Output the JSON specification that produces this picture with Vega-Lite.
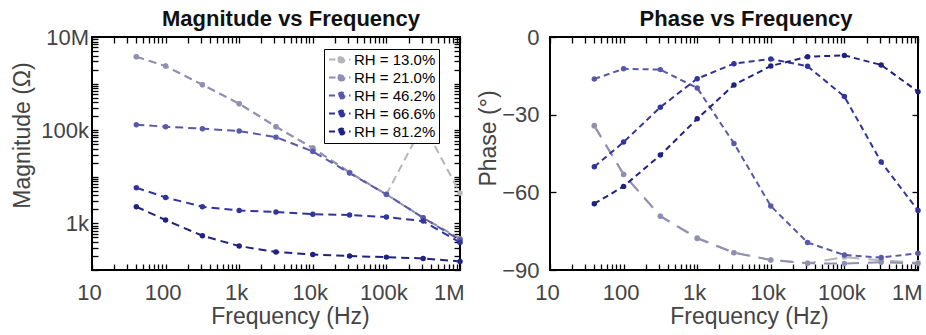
{
  "$schema": "https://vega.github.io/schema/vega-lite/v6.json",
  "padding": {"left": 9, "top": 7, "right": 0, "bottom": 0},
  "background": "white",
  "config": {
    "font": "Liberation Sans",
    "view": {"stroke": "#000", "strokeWidth": 2},
    "axis": {"domain": false, "grid": false, "labelColor": "#444", "titleColor": "#444", "tickColor": "#000", "tickWidth": 1.3, "labelFontSize": 22, "titleFontSize": 23, "titleFontWeight": "normal", "labelFont": "Liberation Sans", "titleFont": "Liberation Sans", "labelOverlap": false, "labelFlush": false}
  },
  "bounds": "flush",
  "spacing": 90,
  "datasets": {
    "mag": [
      {"f": 40, "rh": "RH = 13.0%", "v": 3780000}, {"f": 100, "rh": "RH = 13.0%", "v": 2380000}, {"f": 316, "rh": "RH = 13.0%", "v": 948000}, {"f": 1000, "rh": "RH = 13.0%", "v": 371000}, {"f": 3160, "rh": "RH = 13.0%", "v": 119000}, {"f": 10000, "rh": "RH = 13.0%", "v": 41400}, {"f": 31600, "rh": "RH = 13.0%", "v": 12400}, {"f": 100000, "rh": "RH = 13.0%", "v": 4190}, {"f": 316000, "rh": "RH = 13.0%", "v": 133000}, {"f": 1000000, "rh": "RH = 13.0%", "v": 4500},
      {"f": 40, "rh": "RH = 21.0%", "v": 3780000}, {"f": 100, "rh": "RH = 21.0%", "v": 2380000}, {"f": 316, "rh": "RH = 21.0%", "v": 948000}, {"f": 1000, "rh": "RH = 21.0%", "v": 371000}, {"f": 3160, "rh": "RH = 21.0%", "v": 119000}, {"f": 10000, "rh": "RH = 21.0%", "v": 41400}, {"f": 31600, "rh": "RH = 21.0%", "v": 12400}, {"f": 100000, "rh": "RH = 21.0%", "v": 4190}, {"f": 316000, "rh": "RH = 21.0%", "v": 1320}, {"f": 1000000, "rh": "RH = 21.0%", "v": 469},
      {"f": 40, "rh": "RH = 46.2%", "v": 131000}, {"f": 100, "rh": "RH = 46.2%", "v": 119000}, {"f": 316, "rh": "RH = 46.2%", "v": 108000}, {"f": 1000, "rh": "RH = 46.2%", "v": 96000}, {"f": 3160, "rh": "RH = 46.2%", "v": 71000}, {"f": 10000, "rh": "RH = 46.2%", "v": 35000}, {"f": 31600, "rh": "RH = 46.2%", "v": 12000}, {"f": 100000, "rh": "RH = 46.2%", "v": 4200}, {"f": 316000, "rh": "RH = 46.2%", "v": 1320}, {"f": 1000000, "rh": "RH = 46.2%", "v": 438},
      {"f": 40, "rh": "RH = 66.6%", "v": 5830}, {"f": 100, "rh": "RH = 66.6%", "v": 3610}, {"f": 316, "rh": "RH = 66.6%", "v": 2280}, {"f": 1000, "rh": "RH = 66.6%", "v": 1900}, {"f": 3160, "rh": "RH = 66.6%", "v": 1750}, {"f": 10000, "rh": "RH = 66.6%", "v": 1580}, {"f": 31600, "rh": "RH = 66.6%", "v": 1510}, {"f": 100000, "rh": "RH = 66.6%", "v": 1370}, {"f": 316000, "rh": "RH = 66.6%", "v": 1120}, {"f": 1000000, "rh": "RH = 66.6%", "v": 391},
      {"f": 40, "rh": "RH = 81.2%", "v": 2280}, {"f": 100, "rh": "RH = 81.2%", "v": 1180}, {"f": 316, "rh": "RH = 81.2%", "v": 543}, {"f": 1000, "rh": "RH = 81.2%", "v": 326}, {"f": 3160, "rh": "RH = 81.2%", "v": 243}, {"f": 10000, "rh": "RH = 81.2%", "v": 216}, {"f": 31600, "rh": "RH = 81.2%", "v": 199}, {"f": 100000, "rh": "RH = 81.2%", "v": 189}, {"f": 316000, "rh": "RH = 81.2%", "v": 177}, {"f": 1000000, "rh": "RH = 81.2%", "v": 153}
    ],
    "phase": [
      {"f": 40, "rh": "RH = 13.0%", "v": -34.5}, {"f": 100, "rh": "RH = 13.0%", "v": -53}, {"f": 316, "rh": "RH = 13.0%", "v": -69.2}, {"f": 1000, "rh": "RH = 13.0%", "v": -77.5}, {"f": 3160, "rh": "RH = 13.0%", "v": -83.3}, {"f": 10000, "rh": "RH = 13.0%", "v": -86.1}, {"f": 31600, "rh": "RH = 13.0%", "v": -87.4}, {"f": 100000, "rh": "RH = 13.0%", "v": -85}, {"f": 316000, "rh": "RH = 13.0%", "v": -86.3}, {"f": 1000000, "rh": "RH = 13.0%", "v": -87.2},
      {"f": 40, "rh": "RH = 21.0%", "v": -34.2}, {"f": 100, "rh": "RH = 21.0%", "v": -53.1}, {"f": 316, "rh": "RH = 21.0%", "v": -69.2}, {"f": 1000, "rh": "RH = 21.0%", "v": -77.8}, {"f": 3160, "rh": "RH = 21.0%", "v": -83.3}, {"f": 10000, "rh": "RH = 21.0%", "v": -86.1}, {"f": 31600, "rh": "RH = 21.0%", "v": -87.4}, {"f": 100000, "rh": "RH = 21.0%", "v": -87.5}, {"f": 316000, "rh": "RH = 21.0%", "v": -87}, {"f": 1000000, "rh": "RH = 21.0%", "v": -87.5},
      {"f": 40, "rh": "RH = 46.2%", "v": -16.2}, {"f": 100, "rh": "RH = 46.2%", "v": -12.3}, {"f": 316, "rh": "RH = 46.2%", "v": -12.6}, {"f": 1000, "rh": "RH = 46.2%", "v": -19.7}, {"f": 3160, "rh": "RH = 46.2%", "v": -41.1}, {"f": 10000, "rh": "RH = 46.2%", "v": -65.3}, {"f": 31600, "rh": "RH = 46.2%", "v": -79.4}, {"f": 100000, "rh": "RH = 46.2%", "v": -84.2}, {"f": 316000, "rh": "RH = 46.2%", "v": -85.2}, {"f": 1000000, "rh": "RH = 46.2%", "v": -83.5},
      {"f": 40, "rh": "RH = 66.6%", "v": -50.1}, {"f": 100, "rh": "RH = 66.6%", "v": -40.6}, {"f": 316, "rh": "RH = 66.6%", "v": -27.1}, {"f": 1000, "rh": "RH = 66.6%", "v": -16.1}, {"f": 3160, "rh": "RH = 66.6%", "v": -10.3}, {"f": 10000, "rh": "RH = 66.6%", "v": -8.5}, {"f": 31600, "rh": "RH = 66.6%", "v": -11.3}, {"f": 100000, "rh": "RH = 66.6%", "v": -23}, {"f": 316000, "rh": "RH = 66.6%", "v": -48.3}, {"f": 1000000, "rh": "RH = 66.6%", "v": -67},
      {"f": 40, "rh": "RH = 81.2%", "v": -64.4}, {"f": 100, "rh": "RH = 81.2%", "v": -57.7}, {"f": 316, "rh": "RH = 81.2%", "v": -45.6}, {"f": 1000, "rh": "RH = 81.2%", "v": -31.6}, {"f": 3160, "rh": "RH = 81.2%", "v": -18.5}, {"f": 10000, "rh": "RH = 81.2%", "v": -11.2}, {"f": 31600, "rh": "RH = 81.2%", "v": -7.6}, {"f": 100000, "rh": "RH = 81.2%", "v": -7.1}, {"f": 316000, "rh": "RH = 81.2%", "v": -10.8}, {"f": 1000000, "rh": "RH = 81.2%", "v": -21.1}
    ]
  },
  "hconcat": [
    {
      "width": 368, "height": 233,
      "title": {"text": "Magnitude vs Frequency", "fontSize": 22, "fontWeight": "bold", "color": "#111", "anchor": "middle", "frame": "group", "dx": 15, "offset": -22, "baseline": "alphabetic"},
      "data": {"name": "mag"},
      "layer": [
        {
          "mark": {"type": "line", "strokeDash": [8, 5], "strokeWidth": 2, "point": {"filled": true, "size": 30}},
          "encoding": {
            "x": {"field": "f", "type": "quantitative", "scale": {"type": "log", "domain": [10, 1000000], "nice": false},
              "axis": {"orient": "bottom", "title": "Frequency (Hz)", "titleX": 198, "titleY": 53, "titleBaseline": "alphabetic", "titleAlign": "center",
                "values": [10,20,30,40,50,60,70,80,90,100,200,300,400,500,600,700,800,900,1000,2000,3000,4000,5000,6000,7000,8000,9000,10000,20000,30000,40000,50000,60000,70000,80000,90000,100000,200000,300000,400000,500000,600000,700000,800000,900000,1000000],
                "labelExpr": "datum.value==10?'10':datum.value==100?'100':datum.value==1000?'1k':datum.value==10000?'10k':datum.value==100000?'100k':datum.value==1000000?'1M':''",
                "tickSize": -6, "labelPadding": 18,
                "labelAlign": {"condition": {"test": "datum.value == 1000000", "value": "right"}, "value": "center"},
                "labelOffset": {"condition": {"test": "datum.value == 1000000", "value": 4}, "value": -3},
                "encode": {"ticks": {"update": {"y2": {"signal": "indexof([10,100,1000,10000,100000,1000000], datum.value) >= 0 ? -6 : -3"}}}}}},
            "y": {"field": "v", "type": "quantitative", "scale": {"type": "log", "domain": [100, 10000000], "nice": false},
              "axis": {"orient": "left", "title": "Magnitude (Ω)", "titleX": -70, "titleY": 98, "titleBaseline": "middle", "titleAlign": "center", "titleAngle": -90,
                "values": [100,200,300,400,500,600,700,800,900,1000,2000,3000,4000,5000,6000,7000,8000,9000,10000,20000,30000,40000,50000,60000,70000,80000,90000,100000,200000,300000,400000,500000,600000,700000,800000,900000,1000000,2000000,3000000,4000000,5000000,6000000,7000000,8000000,9000000,10000000],
                "labelExpr": "datum.value==1000?'1k':datum.value==100000?'100k':datum.value==10000000?'10M':''",
                "tickSize": -6, "labelPadding": 9.5,
                "encode": {"ticks": {"update": {"x2": {"signal": "indexof([100,1000,10000,100000,1000000,10000000], datum.value) >= 0 ? 6 : 3"}}}}}},
            "color": {"field": "rh", "type": "nominal",
              "scale": {"domain": ["RH = 13.0%", "RH = 21.0%", "RH = 46.2%", "RH = 66.6%", "RH = 81.2%"], "range": ["#b5b5b9", "#8f8fb5", "#5959aa", "#31349b", "#20227f"]},
              "legend": {"orient": "none", "legendX": 232, "legendY": 12, "title": null, "labelFontSize": 15, "labelColor": "#000", "labelFont": "Liberation Sans", "strokeColor": "#000", "fillColor": "#fff", "padding": 3, "symbolType": "M-2.5,0H-1.2M0.6,0A0.6,0.6,0,1,1,-0.6,0A0.6,0.6,0,1,1,0.6,0M1.5,0H1.8", "symbolSize": 100, "symbolOffset": 7, "labelOffset": 5, "rowPadding": 2, "symbolStrokeWidth": 2,
                "encode": {"symbols": {"update": {"fill": {"scale": "color", "field": "value"}, "stroke": {"scale": "color", "field": "value"}, "strokeWidth": {"value": 2}, "opacity": {"value": 1}}}}}}
          }
        },
        {
          "mark": {"type": "point", "opacity": 0},
          "encoding": {
            "x": {"field": "f", "type": "quantitative", "scale": {"type": "log", "domain": [10, 1000000], "nice": false},
              "axis": {"orient": "top", "title": null, "labels": false, "tickSize": -6,
                "values": [10,20,30,40,50,60,70,80,90,100,200,300,400,500,600,700,800,900,1000,2000,3000,4000,5000,6000,7000,8000,9000,10000,20000,30000,40000,50000,60000,70000,80000,90000,100000,200000,300000,400000,500000,600000,700000,800000,900000,1000000],
                "encode": {"ticks": {"update": {"y2": {"signal": "indexof([10,100,1000,10000,100000,1000000], datum.value) >= 0 ? 6 : 3"}}}}}},
            "y": {"field": "v", "type": "quantitative", "scale": {"type": "log", "domain": [100, 10000000], "nice": false},
              "axis": {"orient": "right", "title": null, "labels": false, "tickSize": -6,
                "values": [100,200,300,400,500,600,700,800,900,1000,2000,3000,4000,5000,6000,7000,8000,9000,10000,20000,30000,40000,50000,60000,70000,80000,90000,100000,200000,300000,400000,500000,600000,700000,800000,900000,1000000,2000000,3000000,4000000,5000000,6000000,7000000,8000000,9000000,10000000],
                "encode": {"ticks": {"update": {"x2": {"signal": "indexof([100,1000,10000,100000,1000000,10000000], datum.value) >= 0 ? -6 : -3"}}}}}}
          }
        }
      ],
      "resolve": {"axis": {"x": "independent", "y": "independent"}}
    },
    {
      "width": 368, "height": 233,
      "title": {"text": "Phase vs Frequency", "fontSize": 22, "fontWeight": "bold", "color": "#111", "anchor": "middle", "frame": "group", "dx": 12, "offset": -22, "baseline": "alphabetic"},
      "data": {"name": "phase"},
      "layer": [
        {
          "mark": {"type": "line", "strokeWidth": 2, "point": {"filled": true, "size": 30}},
          "encoding": {
            "x": {"field": "f", "type": "quantitative", "scale": {"type": "log", "domain": [10, 1000000], "nice": false},
              "axis": {"orient": "bottom", "title": "Frequency (Hz)", "titleX": 199, "titleY": 53, "titleBaseline": "alphabetic", "titleAlign": "center",
                "values": [10,20,30,40,50,60,70,80,90,100,200,300,400,500,600,700,800,900,1000,2000,3000,4000,5000,6000,7000,8000,9000,10000,20000,30000,40000,50000,60000,70000,80000,90000,100000,200000,300000,400000,500000,600000,700000,800000,900000,1000000],
                "labelExpr": "datum.value==10?'10':datum.value==100?'100':datum.value==1000?'1k':datum.value==10000?'10k':datum.value==100000?'100k':datum.value==1000000?'1M':''",
                "tickSize": -6, "labelPadding": 18,
                "labelAlign": {"condition": {"test": "datum.value == 1000000", "value": "right"}, "value": "center"},
                "labelOffset": {"condition": {"test": "datum.value == 1000000", "value": 4}, "value": -3},
                "encode": {"ticks": {"update": {"y2": {"signal": "indexof([10,100,1000,10000,100000,1000000], datum.value) >= 0 ? -6 : -3"}}}}}},
            "y": {"field": "v", "type": "quantitative", "scale": {"domain": [-90, 0], "nice": false},
              "axis": {"orient": "left", "title": "Phase (°)", "titleX": -62, "titleY": 101, "titleBaseline": "middle", "titleAlign": "center", "titleAngle": -90,
                "values": [-90, -60, -30, 0], "tickSize": -6, "labelPadding": 17}},
            "color": {"field": "rh", "type": "nominal", "legend": null},
            "strokeDash": {"field": "rh", "type": "nominal", "legend": null,
              "scale": {"domain": ["RH = 13.0%", "RH = 21.0%", "RH = 46.2%", "RH = 66.6%", "RH = 81.2%"], "range": [[13, 9], [13, 9], [6, 4], [6, 4], [6, 4]]}}
          }
        },
        {
          "mark": {"type": "point", "opacity": 0},
          "encoding": {
            "x": {"field": "f", "type": "quantitative", "scale": {"type": "log", "domain": [10, 1000000], "nice": false},
              "axis": {"orient": "top", "title": null, "labels": false, "tickSize": -6,
                "values": [10,20,30,40,50,60,70,80,90,100,200,300,400,500,600,700,800,900,1000,2000,3000,4000,5000,6000,7000,8000,9000,10000,20000,30000,40000,50000,60000,70000,80000,90000,100000,200000,300000,400000,500000,600000,700000,800000,900000,1000000],
                "encode": {"ticks": {"update": {"y2": {"signal": "indexof([10,100,1000,10000,100000,1000000], datum.value) >= 0 ? 6 : 3"}}}}}},
            "y": {"field": "v", "type": "quantitative", "scale": {"domain": [-90, 0], "nice": false},
              "axis": {"orient": "right", "title": null, "labels": false, "values": [-90, -60, -30, 0], "tickSize": -6}}
          }
        }
      ],
      "resolve": {"axis": {"x": "independent", "y": "independent"}}
    }
  ]
}
